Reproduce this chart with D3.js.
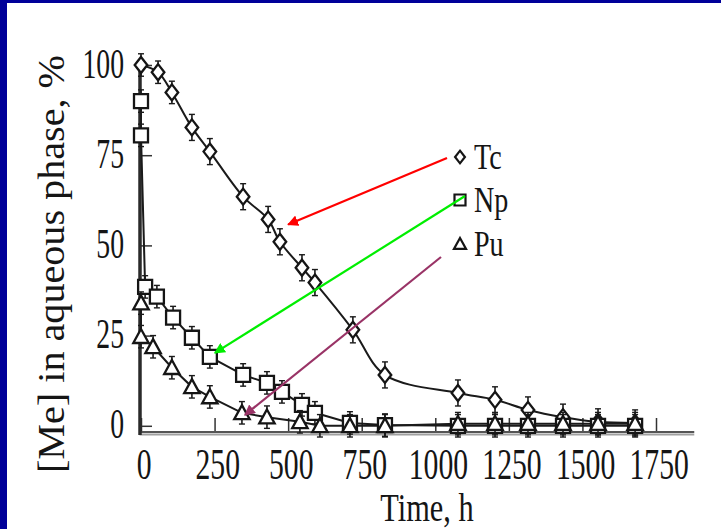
<!DOCTYPE html>
<html>
<head>
<meta charset="utf-8">
<script src="https://cdn.jsdelivr.net/npm/d3@7"></script>
<style>
  body { margin: 0; background: #fff; }
  svg { display: block; }
  text { font-family: "Liberation Serif", "DejaVu Serif", serif; fill: #151515; }
</style>
</head>
<body>
<div id="chart"></div>
<script>
// values (time in h, share in %)
var tcTime = [0, 58, 105, 173, 234, 347, 432, 472, 547, 591, 720, 829, 1077, 1203, 1315, 1434, 1553, 1679];
var tcVal  = [100, 98, 92.4, 82.7, 76, 63.5, 57.2, 51, 43.8, 39.7, 26.6, 14.1, 9.1, 7.2, 4.4, 2.4, 1.1, 0.8];
var tcErr  = [2, 2, 2, 2.5, 2.5, 2.5, 2.5, 2.5, 2.5, 2.5, 2.5, 2.5, 2.5, 2.5, 2.5, 2.5, 2.5, 2.5];

var npTime = [0, 0, 14, 54, 109, 173, 234, 347, 428, 479, 547, 591, 710, 829, 1077, 1203, 1315, 1434, 1553, 1679];
var npVal  = [90, 80.5, 38.5, 35.8, 30, 24.4, 19.1, 14.1, 11.9, 9.4, 5.8, 3.6, 0.8, 0.2, 0, 0, 0, 0, 0, 0];
var npErr  = [2, 2, 2, 2, 2, 2, 2, 2, 2, 2, 2, 2, 2, 2, 2, 2, 2, 2, 2, 2];

var puTime = [0, 0, 41, 105, 173, 234, 343, 428, 540, 608, 710, 829, 1077, 1203, 1315, 1434, 1553, 1679];
var puVal  = [34, 24.7, 21.9, 16.1, 10.8, 8, 3.6, 2.4, 1.1, 0, 0, 0, 0.6, 0.6, 0.6, 0.6, 0.6, 0.6];
var puErr  = [2, 2, 2, 2, 2, 2, 2, 2, 2, 2, 2, 2, 2, 2, 2, 2, 2, 2];

var xTicks = [0, 250, 500, 750, 1000, 1250, 1500, 1750];
var yTicks = [0, 25, 50, 75, 100];
var names  = ["Tc", "Np", "Pu"];
// where each arrow points on its curve (time, %)
var arrowTime = [500, 251, 353];
var arrowVal  = [55.8, 20.2, 3];

var W = 721, H = 529;
var svg = d3.select("#chart").append("svg").attr("width", W).attr("height", H);

// blue slide frame
svg.append("rect").attr("x", 0).attr("y", 0).attr("width", W).attr("height", 3).attr("fill", "#000099");
svg.append("rect").attr("x", 0).attr("y", 0).attr("width", 7).attr("height", H).attr("fill", "#000099");

var x = d3.scaleLinear().domain([0, 1750]).range([141, 656]);
var y = d3.scaleLinear().domain([0, 100]).range([425.8, 65]);
var axisY = 433;

// x axis
var gx = svg.append("g").attr("transform", "translate(0," + axisY + ")")
  .call(d3.axisBottom(x).tickValues(xTicks).tickSizeInner(-15).tickSizeOuter(0).tickFormat(d3.format("d")));
gx.select(".domain").remove();
gx.selectAll(".tick line").attr("stroke", "#333").attr("stroke-width", 1.5);
gx.selectAll(".tick text")
  .attr("y", 46).attr("dy", 0).attr("x", 4)
  .attr("transform", "scale(0.66,1)")
  .style("font-size", "45px").attr("fill", "#151515")
  .style("font-family", "Liberation Serif");
svg.append("line").attr("x1", x(-5)).attr("x2", x(1880)).attr("y1", axisY - 1).attr("y2", axisY - 1)
  .attr("stroke", "#555").attr("stroke-width", 2);
svg.append("line").attr("x1", x(-5)).attr("x2", x(1880)).attr("y1", axisY + 1.5).attr("y2", axisY + 1.5)
  .attr("stroke", "#a0a0a0").attr("stroke-width", 2);

// y axis
var gy = svg.append("g").attr("transform", "translate(140,0)")
  .call(d3.axisLeft(y).tickValues(yTicks).tickSizeInner(-12).tickSizeOuter(0));
gy.select(".domain").remove();
gy.selectAll(".tick line").attr("stroke", "#333").attr("stroke-width", 1.5);
gy.selectAll(".tick text")
  .attr("x", -16 / 0.66).attr("dy", 0).attr("y", 12)
  .attr("transform", "scale(0.66,1)")
  .style("font-size", "42px").attr("fill", "#151515")
  .style("font-family", "Liberation Serif");
svg.append("line").attr("x1", 140).attr("x2", 140).attr("y1", y(100)).attr("y2", axisY + 2)
  .attr("stroke", "#2a2a2a").attr("stroke-width", 3.5);

// axis titles
svg.append("text")
  .attr("transform", "translate(64,264) rotate(-90)")
  .attr("text-anchor", "middle")
  .attr("textLength", 418).attr("lengthAdjust", "spacingAndGlyphs")
  .style("font-size", "38px")
  .text("[Me]  in aqueous phase, %");
svg.append("g").attr("transform", "translate(427,521) scale(0.76,1)")
  .append("text").attr("text-anchor", "middle").style("font-size", "40px").text("Time, h");

// series
function pts(t, v, e) {
  return t.map(function (d, i) { return { t: d, v: v[i], e: e[i] }; });
}
var series = [
  { name: "Tc", data: pts(tcTime, tcVal, tcErr), curve: d3.curveCatmullRom, shape: "diamond" },
  { name: "Np", data: pts(npTime, npVal, npErr), curve: d3.curveLinear, shape: "square" },
  { name: "Pu", data: pts(puTime, puVal, puErr), curve: d3.curveLinear, shape: "triangle" }
];

function shapePath(shape, s) {
  if (shape == "diamond") return "M0," + (-s * 1.15) + "L" + (s * 0.9) + ",0L0," + (s * 1.15) + "L" + (-s * 0.9) + ",0Z";
  if (shape == "square") return "M" + (-s) + "," + (-s) + "h" + (2 * s) + "v" + (2 * s) + "h" + (-2 * s) + "Z";
  return "M0," + (-s * 1.1) + "L" + (s * 1.1) + "," + (s * 0.9) + "L" + (-s * 1.1) + "," + (s * 0.9) + "Z";
}

var line = d3.line().x(function (d) { return x(d.t); }).y(function (d) { return y(d.v); });

series.forEach(function (s) {
  svg.append("path").datum(s.data)
    .attr("d", line.curve(s.curve))
    .attr("fill", "none").attr("stroke", "#1a1a1a").attr("stroke-width", 2);
});

series.forEach(function (s) {
  var g = svg.append("g");
  var pt = g.selectAll("g").data(s.data).enter().append("g")
    .attr("transform", function (d) { return "translate(" + x(d.t) + "," + y(d.v) + ")"; });
  pt.append("line").attr("x1", 0).attr("x2", 0)
    .attr("y1", function (d) { return y(d.v + d.e) - y(d.v) - 4; })
    .attr("y2", function (d) { return y(d.v - d.e) - y(d.v) + 4; })
    .attr("stroke", "#1a1a1a").attr("stroke-width", 1.6);
  pt.append("line").attr("x1", -3).attr("x2", 3)
    .attr("y1", function (d) { return y(d.v + d.e) - y(d.v) - 4; })
    .attr("y2", function (d) { return y(d.v + d.e) - y(d.v) - 4; })
    .attr("stroke", "#1a1a1a").attr("stroke-width", 1.4);
  pt.append("line").attr("x1", -3).attr("x2", 3)
    .attr("y1", function (d) { return y(d.v - d.e) - y(d.v) + 4; })
    .attr("y2", function (d) { return y(d.v - d.e) - y(d.v) + 4; })
    .attr("stroke", "#1a1a1a").attr("stroke-width", 1.4);
  pt.append("path").attr("d", shapePath(s.shape, 7))
    .attr("fill", "#fff").attr("stroke", "#151515").attr("stroke-width", 2.3);
});

// legend
var legY = [157, 200, 244];
var leg = svg.append("g");
names.forEach(function (n, i) {
  var g = leg.append("g").attr("transform", "translate(460," + legY[i] + ")");
  g.append("path").attr("d", shapePath(series[i].shape, 5.5))
    .attr("fill", "#fff").attr("stroke", "#151515").attr("stroke-width", 2.2);
  g.append("g").attr("transform", "translate(14,12) scale(0.78,1)")
    .append("text").style("font-size", "36px").text(n);
});

// arrows from legend to curves
var arrowCol = ["#ff0000", "#00ee00", "#993366"];
var arrowFrom = [[447, 158], [465, 196], [441, 257]];
var defs = svg.append("defs");
arrowCol.forEach(function (c, i) {
  defs.append("marker").attr("id", "ah" + i)
    .attr("viewBox", "0 0 10 10").attr("refX", 9).attr("refY", 5)
    .attr("markerWidth", 5).attr("markerHeight", 5).attr("orient", "auto")
    .append("path").attr("d", "M0,0L10,5L0,10Z").attr("fill", c);
  svg.append("line")
    .attr("x1", arrowFrom[i][0]).attr("y1", arrowFrom[i][1])
    .attr("x2", x(arrowTime[i])).attr("y2", y(arrowVal[i]))
    .attr("stroke", c).attr("stroke-width", 2.2)
    .attr("marker-end", "url(#ah" + i + ")");
});
</script>
</body>
</html>
